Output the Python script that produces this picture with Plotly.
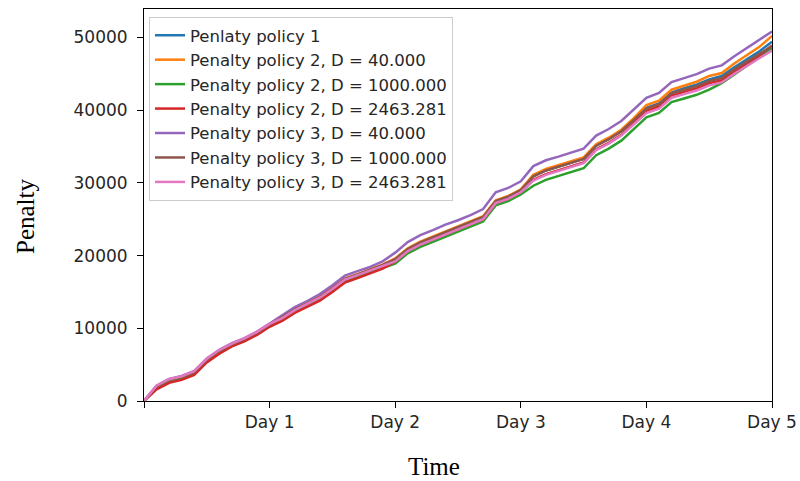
import plotly.graph_objects as go

days = [0.0, 0.1, 0.2, 0.3, 0.4, 0.5, 0.6, 0.7, 0.8, 0.9,
        1.0, 1.1, 1.2, 1.3, 1.4, 1.5, 1.6, 1.7, 1.8, 1.9,
        2.0, 2.1, 2.2, 2.3, 2.4, 2.5, 2.6, 2.7, 2.8, 2.9,
        3.0, 3.1, 3.2, 3.3, 3.4, 3.5, 3.6, 3.7, 3.8, 3.9,
        4.0, 4.1, 4.2, 4.3, 4.4, 4.5, 4.6, 4.7, 4.8, 4.9, 5.0]

policy1 = [0, 1900, 2800, 3200, 3900, 5600, 6800, 7700, 8400, 9300, 10400,
           11400, 12500, 13300, 14200, 15400, 16700, 17300, 17900, 18600,
           19400, 20800, 21700, 22400, 23100, 23700, 24400, 25200,
           27400, 28000, 28900,
           30900, 31700, 32200, 32700, 33300, 35100, 36000, 37100, 38700,
           40300, 40900, 42400, 43000, 43500, 44200, 44700, 45900, 47000, 48100, 49400]

policy2_d40 = [0, 2050, 2950, 3350, 4050, 5750, 6950, 7850, 8550, 9450, 10550,
               11550, 12650, 13450, 14350, 15550, 16850, 17450, 18050, 18750,
               19600, 21000, 21900, 22600, 23300, 23900, 24600, 25400,
               27600, 28200, 29100,
               31100, 31900, 32400, 32900, 33500, 35300, 36200, 37300, 38900,
               40700, 41300, 42800, 43400, 43900, 44700, 45100, 46400, 47600, 48700, 50200]

policy2_d1000 = [0, 1800, 2700, 3100, 3800, 5500, 6700, 7600, 8300, 9200, 10300,
                 11200, 12300, 13100, 14000, 15200, 16500, 17100, 17700, 18400,
                 18900, 20300, 21200, 21900, 22600, 23200, 23900, 24700,
                 26900, 27500, 28400,
                 29600, 30400, 30900, 31400, 32000, 33800, 34700, 35800, 37400,
                 39000, 39600, 41100, 41600, 42100, 42800, 43700, 44900, 46100, 47200, 48500]

policy2_d2463 = [0, 1600, 2500, 2900, 3600, 5300, 6500, 7500, 8200, 9100, 10200,
                 11000, 12100, 12900, 13800, 15000, 16300, 16900, 17500, 18200,
                 19200, 20600, 21500, 22200, 22900, 23500, 24200, 25000,
                 27200, 27800, 28700,
                 30400, 31200, 31700, 32200, 32800, 34600, 35500, 36600, 38200,
                 39900, 40500, 42000, 42500, 43000, 43700, 44100, 45300, 46400, 47500, 48900]

policy3_d40 = [0, 2100, 3050, 3450, 4150, 5850, 7050, 7950, 8650, 9550, 10650,
               11800, 12900, 13750, 14700, 15900, 17250, 17850, 18450, 19200,
               20400, 21850, 22800, 23500, 24250, 24850, 25550, 26400,
               28700, 29300, 30200,
               32300, 33100, 33600, 34100, 34700, 36500, 37400, 38500, 40100,
               41700, 42350, 43850, 44400, 44950, 45700, 46150, 47400, 48500, 49600, 50800]

policy3_d1000 = [0, 2000, 2900, 3300, 4000, 5700, 6900, 7800, 8500, 9400, 10500,
                 11500, 12600, 13400, 14300, 15500, 16800, 17400, 18000, 18700,
                 19500, 20900, 21800, 22500, 23200, 23800, 24500, 25300,
                 27500, 28100, 29000,
                 30900, 31700, 32200, 32700, 33300, 35100, 36000, 37100, 38700,
                 40200, 40800, 42300, 42800, 43300, 44000, 44400, 45600, 46700, 47700, 48800]

policy3_d2463 = [0, 2100, 3000, 3400, 4100, 5800, 7000, 7900, 8600, 9500, 10600,
                 11400, 12500, 13300, 14200, 15400, 16700, 17300, 17900, 18600,
                 19200, 20600, 21500, 22200, 22900, 23500, 24200, 25000,
                 27200, 27800, 28700,
                 30300, 31100, 31600, 32100, 32700, 34500, 35400, 36500, 38100,
                 39600, 40200, 41700, 42200, 42700, 43400, 43800, 45000, 46100, 47100, 48200]

series_names = ["Penlaty policy 1",
                "Penalty policy 2, D = 40.000",
                "Penalty policy 2, D = 1000.000",
                "Penalty policy 2, D = 2463.281",
                "Penalty policy 3, D = 40.000",
                "Penalty policy 3, D = 1000.000",
                "Penalty policy 3, D = 2463.281"]
series_values = [policy1, policy2_d40, policy2_d1000, policy2_d2463,
                 policy3_d40, policy3_d1000, policy3_d2463]
colors = ["#1f77b4", "#ff7f0e", "#2ca02c", "#d62728", "#9467bd", "#8c564b", "#e377c2"]

x_tickvals = [0, 1, 2, 3, 4, 5]
x_ticktext = ["", "Day 1", "Day 2", "Day 3", "Day 4", "Day 5"]
y_tickvals = [0, 10000, 20000, 30000, 40000, 50000]

fig = go.Figure()
for name, vals, c in zip(series_names, series_values, colors):
    fig.add_trace(go.Scatter(x=days, y=vals, mode="lines", name=name,
                             line=dict(color=c, width=2.5)))

W, H = 800, 481
L, R, T, B = 144, 28, 9, 80
pw, ph = W - L - R, H - T - B

def px_x(px):
    return (px - L) / pw

def px_y(py):
    return (H - B - py) / ph

tick_font = dict(family="DejaVu Sans", size=17, color="#262626")

fig.update_layout(
    width=W, height=H,
    margin=dict(l=L, r=R, t=T, b=B, pad=0, autoexpand=False),
    paper_bgcolor="white", plot_bgcolor="white",
    showlegend=True,
    legend=dict(x=px_x(149), y=px_y(17), xanchor="left", yanchor="top",
                font=dict(family="DejaVu Sans", size=16.5, color="#262626"),
                bgcolor="rgba(255,255,255,0.8)", bordercolor="#cccccc",
                borderwidth=1, itemwidth=30, tracegroupgap=0),
    xaxis=dict(range=[0, 5], tickvals=x_tickvals, ticktext=x_ticktext,
               automargin=False,
               showgrid=False, zeroline=False, showline=True, linecolor="black",
               linewidth=1, mirror=True, ticks="outside", ticklen=6,
               tickcolor="black", tickfont=tick_font),
    yaxis=dict(range=[0, 53900], tickvals=y_tickvals, tickformat="d",
               automargin=False, ticklabelstandoff=6,
               showgrid=False, zeroline=False, showline=True, linecolor="black",
               linewidth=1, mirror=True, ticks="outside", ticklen=6,
               tickcolor="black", tickfont=tick_font),
    annotations=[
        dict(text="Penalty", x=px_x(25), y=px_y(216), xref="paper", yref="paper",
             showarrow=False, textangle=-90, xanchor="center", yanchor="middle",
             font=dict(family="Liberation Serif", size=25, color="black")),
        dict(text="Time", x=px_x(434), y=px_y(467), xref="paper", yref="paper",
             showarrow=False, xanchor="center", yanchor="middle",
             font=dict(family="Liberation Serif", size=25, color="black")),
    ],
)

fig.write_html("out.html")
